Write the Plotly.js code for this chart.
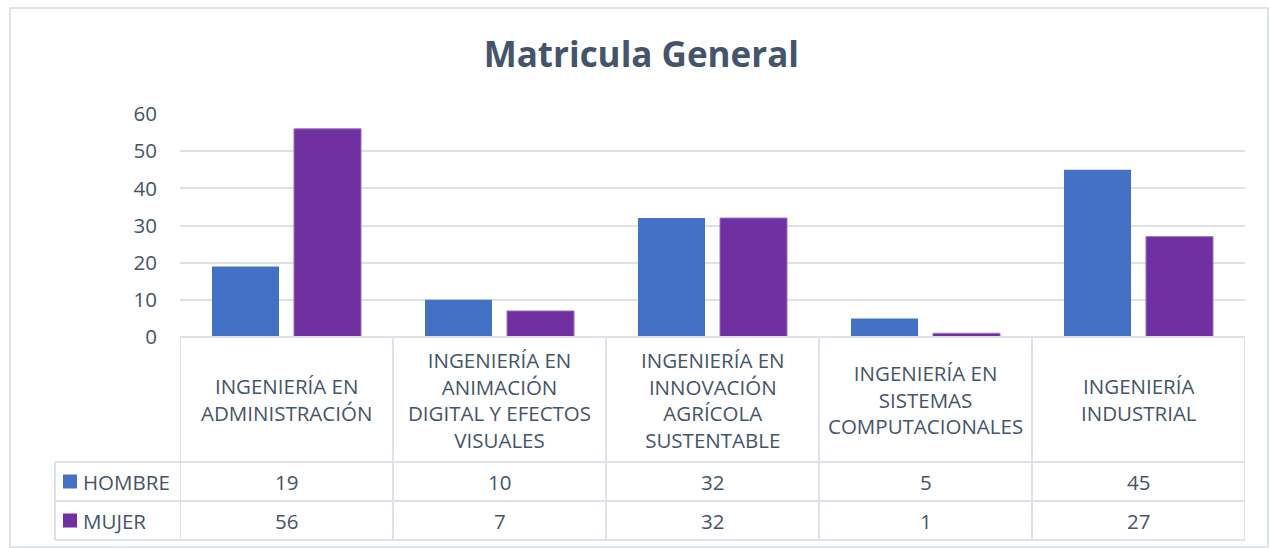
<!DOCTYPE html>
<html><head><meta charset="utf-8">
<script src="https://cdn.plot.ly/plotly-3.0.1.min.js"></script>
<style>html,body{margin:0;padding:0;background:#fff}#chart{width:1270px;height:548px}</style>
</head><body><div id="chart"></div>
<script>
const categories = [
  "INGENIERÍA EN<br>ADMINISTRACIÓN",
  "INGENIERÍA EN<br>ANIMACIÓN<br>DIGITAL Y EFECTOS<br>VISUALES",
  "INGENIERÍA EN<br>INNOVACIÓN<br>AGRÍCOLA<br>SUSTENTABLE",
  "INGENIERÍA EN<br>SISTEMAS<br>COMPUTACIONALES",
  "INGENIERÍA<br>INDUSTRIAL"
];
const catIds = ["ADM","ANI","AGR","SIS","IND"];
const seriesNames = ["HOMBRE","MUJER"];
const hombre = [19,10,32,5,45];
const mujer = [56,7,32,1,27];
const colors = ["#4472C4","#7030A0"];
const yTicks = [0,10,20,30,40,50,60];

const FONT = "Open Sans, sans-serif";
const TXT = "#44546A";
const GRID = "#dde1e8";

// pixel geometry helpers (plot area: x 180..1245, y 114..337)
const plotTop = 114, plotBot = 337, H = plotBot - plotTop;
const py = p => (plotBot - p) / H;
const px = p => (p - 180) / 1065;

const traces = [
  {type:"bar", x:catIds, y:hombre, name:seriesNames[0], marker:{color:"#4271c6"}, showlegend:false, hoverinfo:"y"},
  {type:"bar", x:catIds, y:mujer, name:seriesNames[1], marker:{color:colors[1], line:{color:"#9a6cc4", width:1}}, showlegend:false, hoverinfo:"y"}
];

const shapes = [];
const annotations = [];
const rowTops = [py(337), py(462), py(501), py(540)];
// outer chart border
shapes.push({type:"rect", xref:"paper", yref:"paper", x0:px(10), x1:px(1268), y0:py(547), y1:py(8), line:{color:"#d9dde4", width:1.5}, layer:"below"});
// table vertical lines at category boundaries
for (let i = 0; i <= catIds.length; i++) {
  shapes.push({type:"line", xref:"x", yref:"paper", x0:i-0.5, x1:i-0.5, y0:rowTops[3], y1:rowTops[0], line:{color:GRID, width:2}});
}
// left column line
shapes.push({type:"line", xref:"paper", yref:"paper", x0:px(55), x1:px(55), y0:rowTops[3], y1:rowTops[1], line:{color:GRID, width:2}});
// horizontal table lines
shapes.push({type:"line", xref:"x", yref:"paper", x0:-0.5, x1:catIds.length-0.5, y0:rowTops[0], y1:rowTops[0], line:{color:GRID, width:2}});
for (let r = 1; r <= 3; r++) {
  shapes.push({type:"line", xref:"paper", yref:"paper", x0:px(55), x1:1, y0:rowTops[r], y1:rowTops[r], line:{color:GRID, width:2}});
}
// header labels
categories.forEach((c, i) => {
  annotations.push({xref:"x", yref:"paper", x:catIds[i], y:(rowTops[0]+rowTops[1])/2, text:c, showarrow:false,
    font:{family:FONT, size:20.5, color:TXT}, align:"center", yanchor:"middle"});
});
// values rows
[hombre, mujer].forEach((arr, r) => {
  const yc = (rowTops[r+1] + rowTops[r+2]) / 2;
  arr.forEach((v, i) => {
    annotations.push({xref:"x", yref:"paper", x:catIds[i], y:yc, text:String(v), showarrow:false,
      font:{family:FONT, size:20.5, color:TXT}, yanchor:"middle"});
  });
  // legend key and name
  shapes.push({type:"rect", xref:"paper", yref:"paper", x0:px(63), x1:px(77), y0:yc-7/H, y1:yc+7/H, fillcolor:colors[r], line:{width:0}});
  annotations.push({xref:"paper", yref:"paper", x:px(81), y:yc, text:seriesNames[r], showarrow:false, xanchor:"left", yanchor:"middle",
    font:{family:FONT, size:20.5, color:TXT}});
});

const layout = {
  width:1270, height:548,
  margin:{l:180, r:25, t:plotTop, b:548-plotBot, pad:0},
  paper_bgcolor:"#fff", plot_bgcolor:"#fff",
  title:{text:"<b>Matricula General</b>", x:0.505, xanchor:"center", y:1-55/548, yanchor:"middle",
    font:{family:FONT, size:35, color:TXT}},
  barmode:"group", bargap:0.23, bargroupgap:0.183,
  xaxis:{type:"category", range:[-0.5,4.5], showticklabels:false, showgrid:false, zeroline:false, showline:false, ticks:""},
  yaxis:{range:[0,60], tickvals:yTicks, showgrid:true, gridcolor:GRID, gridwidth:2, zeroline:false, showline:false,
    ticks:"", ticklabelstandoff:22, tickfont:{family:FONT, size:20.5, color:TXT}},
  shapes:shapes, annotations:annotations, font:{family:FONT}
};
Plotly.newPlot("chart", traces, layout, {displayModeBar:false, staticPlot:true});
</script></body></html>
